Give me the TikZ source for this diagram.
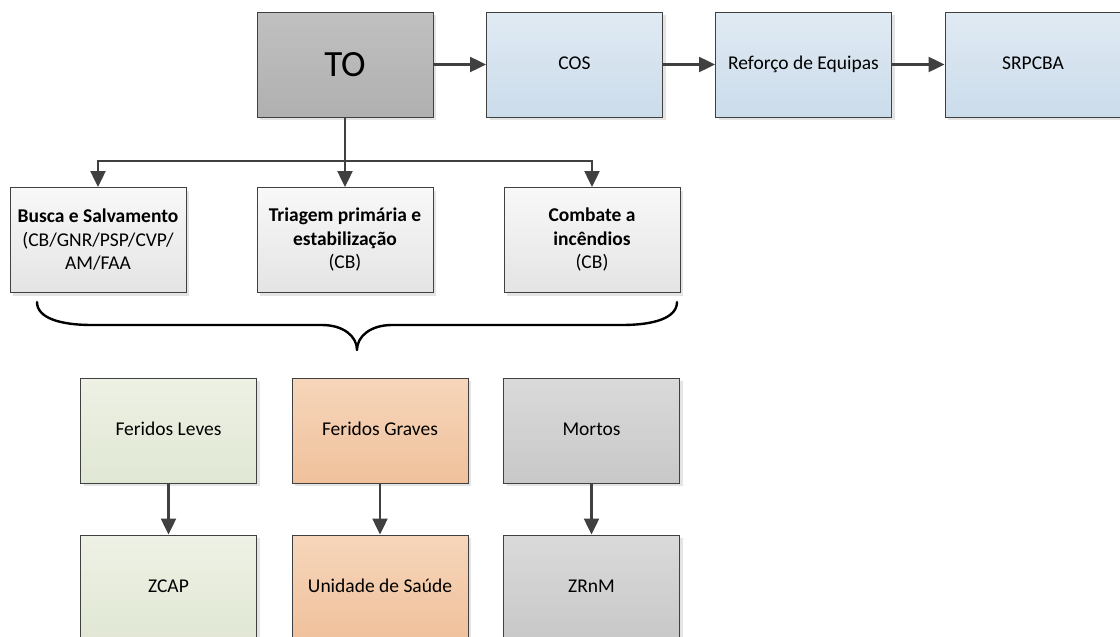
\documentclass[tikz,border=0pt]{standalone}
\usepackage{fontspec}
\setmainfont{Carlito}
\usetikzlibrary{arrows.meta,shadows}
\definecolor{boxline}{RGB}{64,64,64}
\definecolor{toTop}{RGB}{192,192,192}
\definecolor{toBot}{RGB}{176,176,176}
\definecolor{blueTop}{RGB}{224,234,243}
\definecolor{blueBot}{RGB}{203,220,235}
\definecolor{greyTop}{RGB}{248,248,248}
\definecolor{greyBot}{RGB}{228,228,228}
\definecolor{greenTop}{RGB}{238,241,229}
\definecolor{greenBot}{RGB}{224,231,211}
\definecolor{peachTop}{RGB}{246,214,186}
\definecolor{peachBot}{RGB}{240,193,156}
\definecolor{darkTop}{RGB}{218,218,218}
\definecolor{darkBot}{RGB}{200,200,200}
\begin{document}
\begin{tikzpicture}[x=1pt,y=-1pt,
  box/.style={draw=boxline, line width=0.9pt, minimum width=176pt, minimum height=105pt,
    inner sep=2pt, align=center, text=black, font=\fontsize{19.5}{23.5}\selectfont,
    drop shadow={shadow xshift=3pt, shadow yshift=-3pt, fill=black!15, opacity=0.7}},
  tobox/.style={box, top color=toTop, bottom color=toBot, font=\fontsize{37}{40}\selectfont},
  bluebox/.style={box, top color=blueTop, bottom color=blueBot},
  taskbox/.style={box, top color=greyTop, bottom color=greyBot},
  greenbox/.style={box, top color=greenTop, bottom color=greenBot},
  peachbox/.style={box, top color=peachTop, bottom color=peachBot},
  darkbox/.style={box, top color=darkTop, bottom color=darkBot},
  conn/.style={draw=boxline, line width=2.2pt, -{Triangle[length=16pt,width=15pt]}},
  bracestyle/.style={draw=black, line width=2.4pt, line cap=round, line join=round}
]
\useasboundingbox (0,0) rectangle (1120,637);
\clip (0,0) rectangle (1120,637);
\fill[white] (0,0) rectangle (1120,637);

% top row
\node[tobox] (TO) at (345,64.5) {TO};
\node[bluebox] (COS) at (574.5,64.5) {COS\strut};
\node[bluebox] (REF) at (803.5,64.5) {Reforço de Equipas\strut};
\node[bluebox] (SRP) at (1033,64.5) {SRPCBA\strut};

% task row
\node[taskbox] (BUS) at (98,240) {\textbf{Busca e Salvamento}\\(CB/GNR/PSP/CVP/\\AM/FAA};
\node[taskbox] (TRI) at (345,240) {\textbf{Triagem primária e}\\\textbf{estabilização}\\(CB)};
\node[taskbox] (COM) at (592,240) {\textbf{Combate a}\\\textbf{incêndios}\\(CB)};

% victims row
\node[greenbox] (FL) at (168.5,430.5) {Feridos Leves\strut};
\node[peachbox] (FG) at (380,430.5) {Feridos Graves\strut};
\node[darkbox] (MO) at (591.5,430.5) {Mortos\strut};

% destinations row
\node[greenbox] (ZC) at (168.5,587.5) {ZCAP\strut};
\node[peachbox] (US) at (380,587.5) {Unidade de Saúde\strut};
\node[darkbox] (ZR) at (591.5,587.5) {ZRnM\strut};

% connectors
\draw[conn] (TO) -- (COS);
\draw[conn] (COS) -- (REF);
\draw[conn] (REF) -- (SRP);
\coordinate (J) at (345,161);
\draw[conn] (TO.south) -- (TRI.north);
\draw[conn] (J) -| (BUS.north);
\draw[conn] (J) -| (COM.north);
\draw[conn] (FL) -- (ZC);
\draw[conn] (FG) -- (US);
\draw[conn] (MO) -- (ZR);

% brace
\draw[bracestyle] (37,302) .. controls (37,318) and (60,325) .. (92,325)
  -- (322,325) .. controls (343,325) and (357,336) .. (357,350)
  .. controls (357,336) and (371,325) .. (392,325)
  -- (622,325) .. controls (654,325) and (677,318) .. (677,302);
\end{tikzpicture}
\end{document}
